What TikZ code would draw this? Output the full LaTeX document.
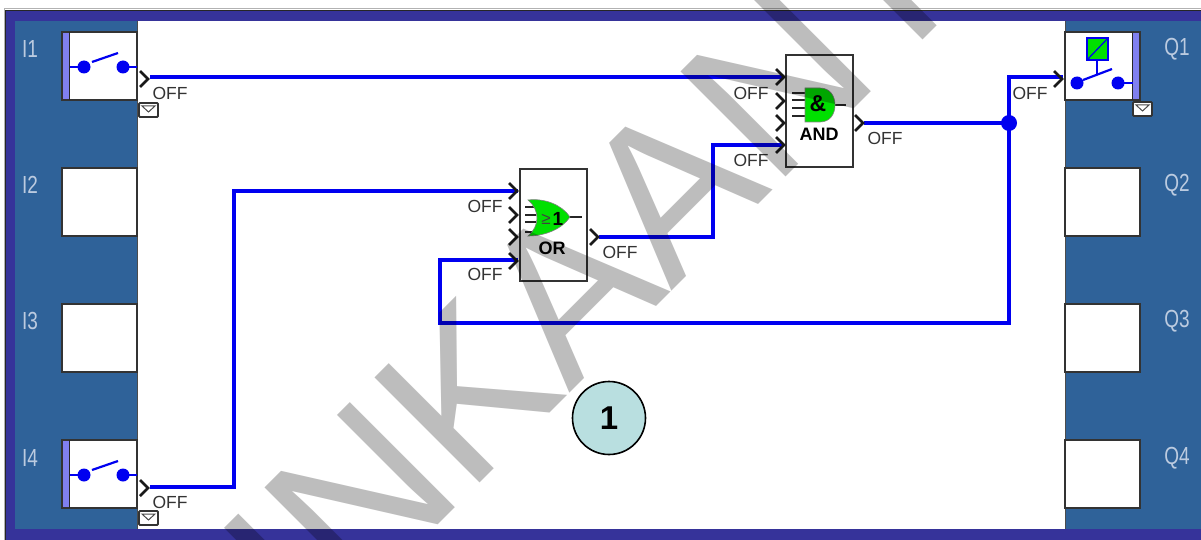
\documentclass[tikz,border=0pt]{standalone}
\usepackage{fontspec}
\setmainfont{Liberation Sans}
\usetikzlibrary{calc}

\definecolor{bandcol}{HTML}{36339A}
\definecolor{panelcol}{HTML}{2F6299}
\definecolor{barcol}{HTML}{8080F0}
\definecolor{wirecol}{HTML}{0000F0}
\definecolor{gatecol}{HTML}{00E000}
\definecolor{tagcol}{HTML}{BCCBE0}
\definecolor{notecol}{HTML}{B9DFE0}
\definecolor{markcol}{HTML}{BDBDBD}

\tikzset{
  iobox/.style = {draw=black!80, line width=1.6, fill=white, minimum width=75, minimum height=68, inner sep=0},
  blockbox/.style = {draw=black!80, line width=1.6, fill=white, minimum width=67, minimum height=112, inner sep=0},
  wire/.style = {wirecol, line width=3.3, line join=miter},
  offlabel/.style = {font=\fontsize{17.5}{17.5}\selectfont, text=black!80, inner sep=0},
  iotag/.style = {font=\fontsize{19}{19}\selectfont, text=tagcol, inner sep=0, transform shape, yscale=1.3},
  gatename/.style = {font=\fontsize{18}{18}\selectfont\bfseries, inner sep=0},
  pinmark/.style = {black!90, line width=2.7, line join=miter},
  gatepin/.style = {black!85, line width=1.1}
}

\newcommand{\chevron}[2]{\draw[pinmark] (#1-4,#2-8) -- (#1+4,#2) -- (#1-4,#2+8);}
\newcommand{\envelope}[2]{
  \draw[black!80, line width=1.8, fill=white, rounded corners=1] (#1,#2) rectangle (#1+19,#2+14);
  \draw[black!70, line width=1] (#1+3,#2+3) -- (#1+9.5,#2+9) -- (#1+16,#2+3) -- cycle;
}
\newcommand{\contacts}[1]{
  \fill[wirecol] (#1,0) circle (6.5) (#1+39,0) circle (6.5);
}

\begin{document}
\begin{tikzpicture}[x=1pt, y=-1pt]

  \useasboundingbox (0,0) rectangle (1201,540);

  % frame and panels
  \fill[bandcol] (5,10) rectangle (1201,540);
  \draw[black!85, line width=1.5] (5,540) -- (5,10.5) -- (1201,10.5);
  \draw[black!30, line width=1] (4,540) -- (4,9) -- (1201,9);
  \fill[panelcol] (15,21) rectangle (137,529);
  \fill[panelcol] (1065,21) rectangle (1201,529);
  \fill[white] (137,21) rectangle (1065,529);
  \draw[black!70, line width=1] (137,21) -- (137,529);
  \draw[black!70, line width=1] (1065,21) -- (1065,529);

  % input and output boxes
  \foreach \n/\y in {1/66, 2/202, 3/338, 4/474} {
    \node[iobox] (I\n) at (99.5,\y) {};
    \node[iobox] (Q\n) at (1102.5,\y) {};
  }
  \foreach \n/\y in {1/49, 2/185, 3/321, 4/458} {
    \node[iotag] (tagI\n) at (30,\y) {I\n};
    \node[iotag] (tagQ\n) at (1177,\y) {Q\n};
  }
  \foreach \y in {66, 474} {
    \fill[barcol] (63,\y-33) rectangle (69,\y+33);
    \draw[black!85, line width=1] (69.5,\y-34) -- (69.5,\y+34);
    \begin{scope}[yshift=-\y-1]
      \draw[wirecol, line width=2] (70,0) -- (78,0) (129,0) -- (137,0);
      \draw[wirecol, line width=2.2] (92,-5) -- (118,-14);
      \contacts{84}
    \end{scope}
  }
  \fill[barcol] (1133,33) rectangle (1139,99);
  \draw[black!85, line width=1] (1132.5,32) -- (1132.5,100);
  \draw[wirecol, line width=2.2] (1083,80) -- (1112,69);
  \draw[wirecol, line width=2] (1124,83) -- (1133,83);
  \draw[wirecol, line width=2] (1097,60) -- (1097,75);
  \fill[wirecol] (1077,83) circle (6.5) (1118,83) circle (6.5);
  \draw[wirecol, line width=1.6, fill=gatecol] (1087,38) rectangle (1108,60);
  \draw[wirecol, line width=1.2] (1087,60) -- (1108,38);

  \envelope{139}{103}
  \envelope{139}{511}
  \envelope{1133}{102}

  % blocks
  \node[blockbox] (AND) at (819.5,111) {};
  \node[blockbox] (OR) at (553.5,225) {};
  \node[gatename] (ANDname) at (819,134) {AND};
  \node[gatename] (ORname) at (552,248) {OR};

  \foreach \y in {93, 100, 108, 116} \draw[gatepin] (792,\y) -- (806,\y);
  \draw[gatepin] (835,105) -- (846,105);
  \draw[black!50, line width=0.6, fill=gatecol] (805,88) -- (820,88) .. controls (830,88) and (835,96) .. (835,105)
    .. controls (835,114) and (830,122) .. (820,122) -- (805,122) -- cycle;
  \node[inner sep=0, font=\fontsize{23}{23}\selectfont\bfseries] (ANDsign) at (818,104) {\&};

  \foreach \y in {207, 215, 222, 232} \draw[gatepin] (525,\y) -- (536,\y);
  \draw[gatepin] (568,217) -- (582,217);
  \draw[black!50, line width=0.6, fill=gatecol] (528,200) .. controls (545,198) and (562,205) .. (570,217)
    .. controls (562,229) and (545,236) .. (528,236) .. controls (540,226) and (540,210) .. (528,200) -- cycle;
  \node[inner sep=0, text=black!75, font=\fontsize{17}{17}\selectfont] (ORgeq) at (546,219) {≥};
  \node[inner sep=0, font=\fontsize{19}{19}\selectfont\bfseries] (ORone) at (558,219) {1};

  % wires
  \coordinate (I1out) at (150,77);
  \coordinate (I4out) at (150,487);
  \coordinate (ANDa) at (784,77);
  \coordinate (ANDd) at (784,145);
  \coordinate (ANDout) at (864,123);
  \coordinate (ORa) at (518,191);
  \coordinate (ORd) at (518,260);
  \coordinate (ORout) at (599,237);
  \coordinate (Q1in) at (1063,77);
  \coordinate (dot) at (1009,123);

  \draw[wire] (I1out) -- (ANDa);
  \draw[wire] (I4out) -| (234,191) -- (ORa);
  \draw[wire] (ORout) -| (713,145) -- (ANDd);
  \draw[wire] (ANDout) -- (dot);
  \draw[wire] (dot) |- (Q1in);
  \draw[wire] (dot) |- (440,323) |- (ORd);
  \fill[wirecol] (dot) circle (8);

  % pin marks
  \chevron{144}{79}
  \chevron{144}{488}
  \chevron{1058}{79}
  \chevron{859}{123}
  \chevron{594}{237}
  \foreach \y in {77, 101, 123, 145} {\chevron{780}{\y}}
  \foreach \y in {191, 215, 237, 261} {\chevron{513}{\y}}

  \draw node[offlabel] (offI1) at (170,93) {OFF};
  \draw node[offlabel] (offI4) at (170,502) {OFF};
  \draw node[offlabel] (offQ1) at (1030,93) {OFF};
  \draw node[offlabel] (offANDa) at (751,93) {OFF};
  \draw node[offlabel] (offANDd) at (751,160) {OFF};
  \draw node[offlabel] (offAND) at (885,138) {OFF};
  \draw node[offlabel] (offORa) at (485,206) {OFF};
  \draw node[offlabel] (offORd) at (485,274) {OFF};
  \draw node[offlabel] (offOR) at (620,252) {OFF};

  % watermark
  \begin{scope}[blend mode=multiply]
    \node[rotate=45, anchor=base west, inner sep=0, text=markcol,
      font=\fontsize{216}{216}\selectfont] (mark) at (315,648) {INKAANT};
  \end{scope}

  % callout
  \node[circle, draw=black, line width=1.6, fill=notecol, minimum size=73, inner sep=0,
    font=\fontsize{33}{33}\selectfont\bfseries] (callout) at (609,418) {1};

\end{tikzpicture}
\end{document}
